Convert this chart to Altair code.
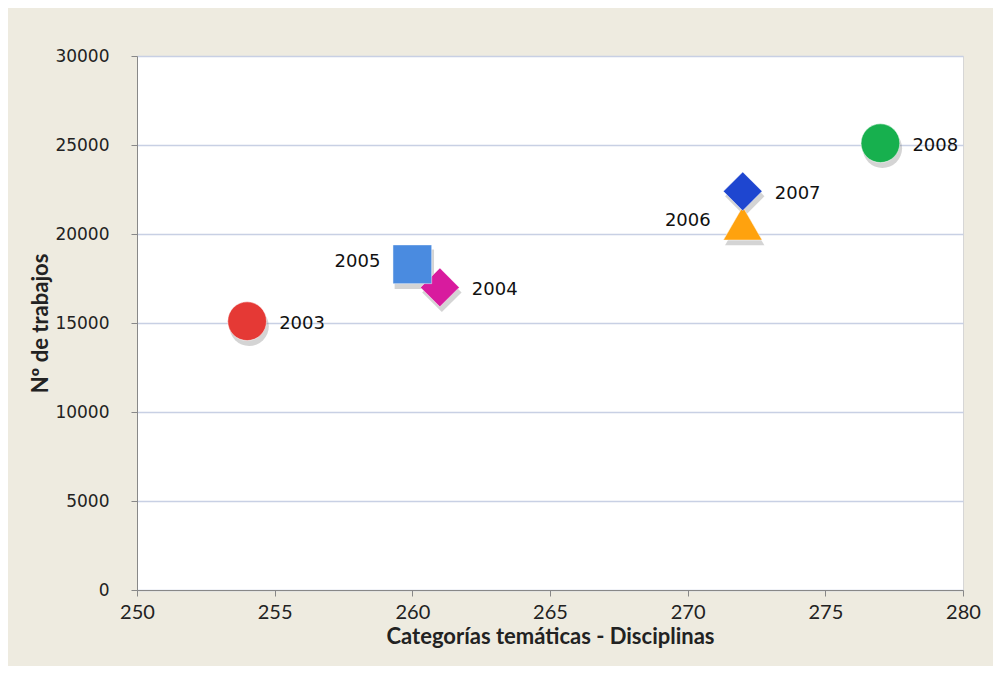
import altair as alt
import pandas as pd

years = ["2003", "2004", "2005", "2006", "2007", "2008"]
disciplinas = [254, 261, 260, 272, 272, 277]
trabajos = [15100, 17000, 18300, 20600, 22400, 25100]
shapes = ["circle", "diamond", "square", "triangle-up", "diamond", "circle"]
colors = ["#E53935", "#D81B9E", "#4A8BE0", "#FFA20E", "#1E46D0", "#17B04E"]
left_labels = ["2005", "2006"]

df = pd.DataFrame({"year": years, "x": disciplinas, "y": trabajos})

xs = alt.Scale(domain=[250, 280], nice=False, zero=False)
ys = alt.Scale(domain=[0, 30000], nice=False)

base = alt.Chart(df).encode(
    x=alt.X("x:Q", scale=xs, title="Categorías temáticas - Disciplinas",
            axis=alt.Axis(values=[250, 255, 260, 265, 270, 275, 280], grid=False,
                          labelFlush=False,
                          labelFont="Lato", labelFontSize=20, labelColor="#222222",
                          labelPadding=6, tickSize=6, tickColor="#888888",
                          domainColor="#888888", titleFont="Lato", titleFontSize=22,
                          titleFontWeight="bold", titleColor="#222222", titlePadding=4)),
    y=alt.Y("y:Q", scale=ys, title="Nº de trabajos",
            axis=alt.Axis(values=[0, 5000, 10000, 15000, 20000, 25000, 30000],
                          format="d", labelFlush=False,
                          grid=True, gridColor="#C8D0E4", gridWidth=1.5,
                          labelFont="DejaVu Sans", labelFontSize=17, labelColor="#222222",
                          labelPadding=22, tickSize=6, tickColor="#888888",
                          domainColor="#888888", titleFont="Lato", titleFontSize=22,
                          titleFontWeight="bold", titleColor="#222222", titlePadding=2)),
)

shadow = base.mark_point(filled=True, opacity=0.25, size=1550, xOffset=2, yOffset=5,
                         color="#555555").encode(
    shape=alt.Shape("year:N", scale=alt.Scale(domain=years, range=shapes), legend=None)
)

points = base.mark_point(filled=True, opacity=1, size=1500, stroke="white",
                         strokeWidth=0.8, strokeOpacity=0.6).encode(
    shape=alt.Shape("year:N", scale=alt.Scale(domain=years, range=shapes), legend=None),
    color=alt.Color("year:N", scale=alt.Scale(domain=years, range=colors), legend=None),
)

labels_right = base.transform_filter(
    ~alt.FieldOneOfPredicate(field="year", oneOf=left_labels)
).mark_text(align="left", baseline="middle", dx=32, dy=3, font="DejaVu Sans",
            fontSize=18, color="#111111").encode(text="year:N")

labels_left = base.transform_filter(
    alt.FieldOneOfPredicate(field="year", oneOf=left_labels)
).mark_text(align="right", baseline="middle", dx=-32, dy=-2, font="DejaVu Sans",
            fontSize=18, color="#111111").encode(text="year:N")

chart = alt.layer(shadow, points, labels_right, labels_left).properties(
    width=826, height=534,
    autosize=alt.AutoSizeParams(type="none"),
    padding={"left": 129, "top": 48, "right": 30, "bottom": 76},
    background="#EEEBE0",
).configure_view(fill="white", stroke="#D6D6D6", strokeWidth=1)

chart.save("out.html", embed_options={"renderer": "svg", "actions": False})
